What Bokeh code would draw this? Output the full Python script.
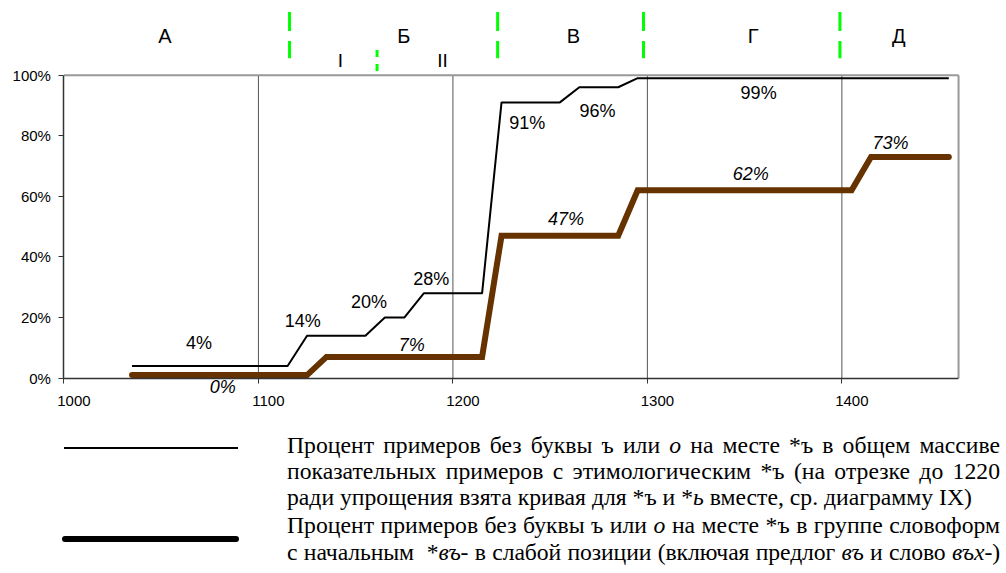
from bokeh.plotting import figure
from bokeh.models import ColumnDataSource, LabelSet, FixedTicker, Range1d, Div
from bokeh.layouts import column
from bokeh.embed import file_html
from bokeh.resources import INLINE
from bokeh.core.properties import value

# ---------------- data ----------------
black_years = [1035, 1115, 1125, 1155, 1165, 1175, 1185, 1215, 1225, 1255, 1265, 1285, 1295, 1455]
black_pct = [4, 4, 14, 14, 20, 20, 28, 28, 91, 91, 96, 96, 99, 99]

brown_years = [1035, 1125, 1135, 1215, 1225, 1285, 1295, 1405, 1415, 1455]
brown_pct = [1, 1, 7, 7, 47, 47, 62, 62, 73, 73]

black_label_text = ["4%", "14%", "20%", "28%", "91%", "96%", "99%"]
black_label_x = [1069.4, 1122.8, 1156.8, 1188.9, 1238.2, 1274.3, 1357.2]
black_label_y = [11.6, 18.8, 25.1, 32.6, 84.3, 88.3, 94.2]

brown_label_text = ["0%", "7%", "47%", "62%", "73%"]
brown_label_x = [1081.6, 1178.9, 1258.2, 1353.1, 1425.0]
brown_label_y = [-2.9, 10.9, 52.6, 67.4, 77.7]

period_names = ["А", "Б", "В", "Г", "Д"]
period_x = [1051.9, 1174.7, 1262.0, 1354.4, 1429.3]
subperiod_names = ["I", "II"]
subperiod_x = [1142.1, 1194.6]
period_bounds = [1116, 1223, 1298, 1399]
subperiod_bounds = [1161]

x_ticks = [1000, 1100, 1200, 1300, 1400]
x_tick_labels = ["1000", "1100", "1200", "1300", "1400"]
y_ticks = [0, 20, 40, 60, 80, 100]
y_tick_labels = ["0%", "20%", "40%", "60%", "80%", "100%"]
grid_years = [1100, 1200, 1300, 1400]

# ---------------- styles / layout constants ----------------
X_AXIS0, X_END = 1000, 1460
X0, X1 = 972, 1461
PPX = 1.9458               # px per year
PPU = 3.03                 # px per percent
FRAME_W = round((X1 - X0) * PPX)
LEFT = round(63 - (X_AXIS0 - X0) * PPX)
FRAME_H = 406
Y_START = -12.0
Y_TOP = Y_START + FRAME_H / PPU
PERIOD_Y = 112.8
SUBPERIOD_Y = 104.7
TICKLAB_Y = -7.6
BOUND_TOP, BOUND_BOT = 120.8, 105.6
SUB_TOP, SUB_BOT = 108.3, 101.3
SANS = value("Liberation Sans")

p = figure(frame_width=FRAME_W, frame_height=FRAME_H, min_border_left=LEFT, min_border_right=20,
           min_border_top=8, min_border_bottom=6,
           x_range=Range1d(X0, X1), y_range=Range1d(Y_START, Y_TOP),
           output_backend="svg", toolbar_location=None, tools="")
p.outline_line_color = None
p.xgrid.visible = False
p.ygrid.visible = False
p.background_fill_color = "white"
p.border_fill_color = "white"

# axes (drawn at x=1000 / y=0; their labels are drawn below as label sets)
for ax, loc, bnd, ticks in ((p.xaxis, 0, (X_AXIS0, X_END), x_ticks),
                            (p.yaxis, X_AXIS0, (0, 100), y_ticks)):
    ax.fixed_location = loc
    ax.bounds = bnd
    ax.ticker = FixedTicker(ticks=ticks)
    ax.major_label_overrides = {t: "" for t in ticks}
    ax.major_label_text_font_size = "1px"
    ax.major_label_standoff = 0
    ax.major_tick_out = 5
    ax.major_tick_in = 0
    ax.minor_tick_line_color = None
    ax.axis_line_color = "#333333"
    ax.axis_line_width = 1.5
    ax.major_tick_line_color = "#333333"

# tick labels
xl = ColumnDataSource(dict(x=x_ticks, y=[TICKLAB_Y] * len(x_ticks), t=x_tick_labels))
p.add_layout(LabelSet(x="x", y="y", text="t", source=xl, x_offset=10,
                      text_align="center", text_baseline="middle",
                      text_font=SANS, text_font_size="15px", text_color="black"))
yl = ColumnDataSource(dict(x=[X_AXIS0] * len(y_ticks), y=y_ticks, t=y_tick_labels))
p.add_layout(LabelSet(x="x", y="y", text="t", source=yl, x_offset=-13,
                      text_align="right", text_baseline="middle",
                      text_font=SANS, text_font_size="15px", text_color="black"))

# vertical grid lines within the plot box
p.segment(x0=grid_years, y0=[0] * len(grid_years), x1=grid_years, y1=[100] * len(grid_years),
          line_color="#555555", line_width=1)
# top and right border
p.segment(x0=[X_AXIS0, X_END], y0=[100, 0], x1=[X_END, X_END], y1=[100, 100],
          line_color="#999999", line_width=2)

# period boundaries (green dashes above the plot)
p.segment(x0=period_bounds, y0=[BOUND_TOP] * len(period_bounds),
          x1=period_bounds, y1=[BOUND_BOT] * len(period_bounds),
          line_color="#00ff00", line_width=3, line_dash="19 10")
p.segment(x0=subperiod_bounds, y0=[SUB_TOP] * len(subperiod_bounds),
          x1=subperiod_bounds, y1=[SUB_BOT] * len(subperiod_bounds),
          line_color="#00ff00", line_width=3, line_dash="7 7")

# data lines
p.line(brown_years, brown_pct, line_color="#663300", line_width=6,
       line_cap="round", line_join="miter")
p.line(black_years, black_pct, line_color="black", line_width=2)

# labels
bl = ColumnDataSource(dict(x=black_label_x, y=black_label_y, t=black_label_text))
p.add_layout(LabelSet(x="x", y="y", text="t", source=bl, text_align="center",
                      text_baseline="middle", text_font=SANS, text_font_size="18px",
                      text_color="black"))
brl = ColumnDataSource(dict(x=brown_label_x, y=brown_label_y, t=brown_label_text))
p.add_layout(LabelSet(x="x", y="y", text="t", source=brl, text_align="center",
                      text_baseline="middle", text_font=SANS, text_font_size="18px",
                      text_font_style="italic", text_color="black"))
pl = ColumnDataSource(dict(x=period_x, y=[PERIOD_Y] * len(period_x), t=period_names))
p.add_layout(LabelSet(x="x", y="y", text="t", source=pl, text_align="center",
                      text_baseline="middle", text_font=SANS, text_font_size="20px",
                      text_color="black"))
spl = ColumnDataSource(dict(x=subperiod_x, y=[SUBPERIOD_Y] * len(subperiod_x), t=subperiod_names))
p.add_layout(LabelSet(x="x", y="y", text="t", source=spl, text_align="center",
                      text_baseline="middle", text_font=SANS, text_font_size="19px",
                      text_color="black"))

# ---------------- legend (HTML) ----------------
legend_lines = [
    "Процент примеров без буквы ъ или <i>о</i> на месте *ъ в общем массиве",
    "показательных примеров с этимологическим *ъ (на отрезке до 1220",
    "ради упрощения взята кривая для *ъ и *<i>ь</i> вместе, ср. диаграмму IX)",
    "Процент примеров без буквы ъ или <i>о</i> на месте *ъ в группе словоформ",
    "с начальным &nbsp;*<i>въ</i>- в слабой позиции (включая предлог <i>въ</i> и слово <i>въх</i>-)",
]
line_baselines = [33, 59, 85, 113, 140]   # px from top of legend block
justify = [True, True, False, True, True]
extra = ["", "", "", "", "letter-spacing:-0.12px;"]
FS = 23.7
BASE_OFF = 21.0

parts = []
for txt, b, j, ex in zip(legend_lines, line_baselines, justify, extra):
    top = b - BASE_OFF
    al = "text-align:justify;text-align-last:justify;" if j else "text-align:left;"
    parts.append(
        f'<div style="position:absolute;left:287px;top:{top:.1f}px;width:713px;white-space:nowrap;'
        f'font-family:\'Liberation Serif\';font-size:{FS}px;line-height:26px;color:black;{al}{ex}">{txt}</div>')
parts.append('<div style="position:absolute;left:64px;top:27px;width:174px;height:2px;background:black;"></div>')
parts.append('<div style="position:absolute;left:62px;top:116px;width:177px;height:6px;'
             'background:black;border-radius:3px;"></div>')
html = '<div style="position:relative;width:1000px;height:148px;overflow:visible;">' + "".join(parts) + '</div>'
div = Div(text=html, width=1000, height=148, margin=0)

layout = column(p, div, spacing=0, margin=0)
open("out.html", "w").write(file_html(layout, INLINE))
